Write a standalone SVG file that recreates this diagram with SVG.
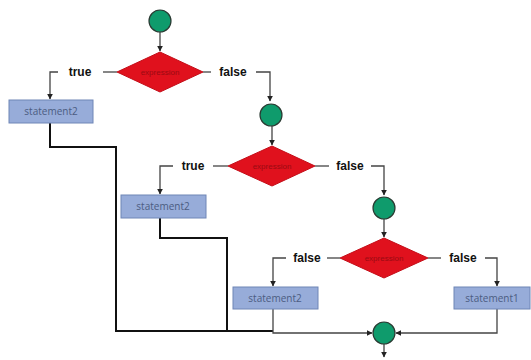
<svg xmlns="http://www.w3.org/2000/svg" width="531" height="360" viewBox="0 0 531 360">
<style>
.circ{fill:#0f9b6c;stroke:#2b3b33;stroke-width:1.2}
.dia{fill:#e0111d;stroke:#c40d18;stroke-width:1}
.dtxt{font-family:"Liberation Sans",Arial,sans-serif;font-size:8px;fill:#9a0a12;text-anchor:middle}
.box{fill:#97acd9;stroke:#6f86b6;stroke-width:1}
.btxt{font-family:"Open Sans","Liberation Sans",sans-serif;font-size:10px;fill:#4c5c82;text-anchor:middle}
.lbl{font-family:"Liberation Sans",Arial,sans-serif;font-size:12px;font-weight:bold;fill:#111;text-anchor:middle}
.ln{fill:none;stroke:#444;stroke-width:1.3}
.blk{fill:none;stroke:#111;stroke-width:2}
</style>
<defs>
<marker id="ah" viewBox="0 0 10 10" refX="9" refY="5" markerWidth="6" markerHeight="6" orient="auto" markerUnits="userSpaceOnUse">
<path d="M0,0 L10,5 L0,10 z" fill="#222"/>
</marker>
</defs>
<rect width="531" height="360" fill="#fff"/>
<g id="connectors">
<path class="ln" d="M160,32 V51" marker-end="url(#ah)"/>
<path class="ln" d="M117,72 H103"/>
<path class="ln" d="M58,72 H50 V99" marker-end="url(#ah)"/>
<path class="ln" d="M203,72 H211"/>
<path class="ln" d="M256,72 H270 V101" marker-end="url(#ah)"/>
<path class="blk" d="M50,123 V147 H116 V331 H273"/>
<path class="ln" d="M272,126 V145" marker-end="url(#ah)"/>
<path class="ln" d="M228,166 H213"/>
<path class="ln" d="M173,166 H160 V194" marker-end="url(#ah)"/>
<path class="ln" d="M315,166 H329"/>
<path class="ln" d="M371,166 H384 V195" marker-end="url(#ah)"/>
<path class="blk" d="M160,218 V238 H227 V331"/>
<path class="ln" d="M384,219 V237" marker-end="url(#ah)"/>
<path class="ln" d="M340,258 H327"/>
<path class="ln" d="M286,258 H273 V286" marker-end="url(#ah)"/>
<path class="ln" d="M428,258 H441"/>
<path class="ln" d="M485,258 H497 V286" marker-end="url(#ah)"/>
<path class="ln" d="M273,309 V333 H372" marker-end="url(#ah)"/>
<path class="ln" d="M497,309 V333 H396" marker-end="url(#ah)"/>
<path class="ln" d="M384,344 V357" marker-end="url(#ah)"/>
</g>
<g id="start"><circle class="circ" cx="160" cy="21" r="11"/></g>
<g id="decision1"><polygon class="dia" points="160,52 203,72 160,92 117,72"/><text class="dtxt" x="160" y="75">expression</text></g>
<g id="label-true1"><text class="lbl" x="80" y="76">true</text></g>
<g id="label-false1"><text class="lbl" x="233" y="76">false</text></g>
<g id="statement2-a"><rect class="box" x="9" y="100" width="84" height="23"/><text class="btxt" x="51" y="115">statement2</text></g>
<g id="merge1"><circle class="circ" cx="271" cy="115" r="11"/></g>
<g id="decision2"><polygon class="dia" points="272,146 315,166 272,186 228,166"/><text class="dtxt" x="272" y="169">expression</text></g>
<g id="label-true2"><text class="lbl" x="193" y="170">true</text></g>
<g id="label-false2"><text class="lbl" x="350" y="170">false</text></g>
<g id="statement2-b"><rect class="box" x="121" y="195" width="85" height="23"/><text class="btxt" x="163" y="210">statement2</text></g>
<g id="merge2"><circle class="circ" cx="384" cy="208" r="11"/></g>
<g id="decision3"><polygon class="dia" points="384,238 428,258 384,278 340,258"/><text class="dtxt" x="384" y="261">expression</text></g>
<g id="label-false3"><text class="lbl" x="307" y="262">false</text></g>
<g id="label-false4"><text class="lbl" x="463" y="262">false</text></g>
<g id="statement2-c"><rect class="box" x="233" y="287" width="85" height="22"/><text class="btxt" x="275" y="302">statement2</text></g>
<g id="statement1"><rect class="box" x="454" y="287" width="76" height="22"/><text class="btxt" x="492" y="302">statement1</text></g>
<g id="end"><circle class="circ" cx="384" cy="333" r="11"/></g>
</svg>
